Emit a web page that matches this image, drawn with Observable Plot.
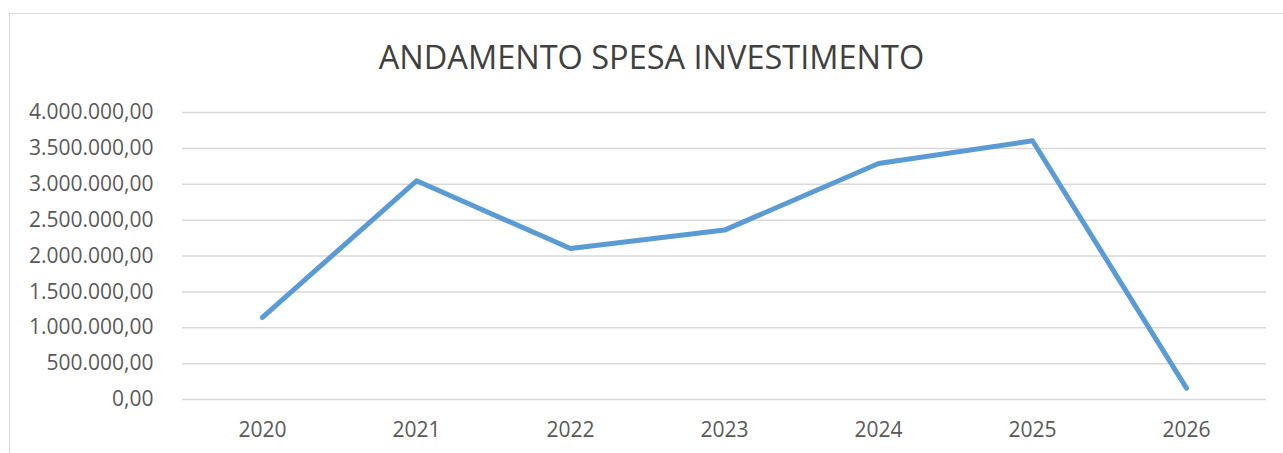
<!DOCTYPE html>
<html>
<head>
<meta charset="utf-8">
<script src="https://cdn.jsdelivr.net/npm/d3@7"></script>
<script src="https://cdn.jsdelivr.net/npm/@observablehq/plot@0.6"></script>
<style>
  html, body { margin: 0; padding: 0; background: #fff; }
  #wrap { position: relative; width: 1283px; height: 453px; overflow: hidden; }
  #border { position: absolute; left: 9px; top: 13px; right: -5px; bottom: -5px; border-left: 1.5px solid #d9d9d9; border-top: 1.5px solid #d9d9d9; pointer-events: none; }
  #chart { position: absolute; left: 0; top: 0; }
</style>
</head>
<body>
<div id="wrap"><div id="chart"></div><div id="border"></div></div>
<script>
const title = "ANDAMENTO SPESA INVESTIMENTO";
const years = ["2020", "2021", "2022", "2023", "2024", "2025", "2026"];
const spesa = [1143000, 3048000, 2104000, 2361000, 3289000, 3606000, 159000];
const yTicks = [0, 500000, 1000000, 1500000, 2000000, 2500000, 3000000, 3500000, 4000000];

const data = years.map((y, i) => ({anno: y, valore: spesa[i]}));
const it = d3.formatLocale({decimal: ",", thousands: ".", grouping: [3], currency: ["€", ""]});
const fmt = it.format(",.2f");

const chart = Plot.plot({
  width: 1283,
  height: 453,
  marginLeft: 182,
  marginRight: 17,
  marginTop: 112,
  marginBottom: 54,
  style: {fontFamily: "'Open Sans', sans-serif", fontSize: "21px", color: "#595959", background: "transparent"},
  x: {type: "point", domain: years, padding: 0.5, label: null, tickSize: 0, tickPadding: 23},
  y: {domain: [0, 4000000], ticks: yTicks, tickFormat: fmt, label: null, tickSize: 0, tickPadding: 29},
  marks: [
    Plot.ruleY(yTicks, {stroke: "#d9d9d9", strokeWidth: 1.5}),
    Plot.axisX({tickSize: 0, tickPadding: 23, fill: "#595959"}),
    Plot.axisY({ticks: yTicks, tickFormat: fmt, tickSize: 0, tickPadding: 29, fill: "#595959"}),
    Plot.line(data, {x: "anno", y: "valore", stroke: "#5b9bd5", strokeWidth: 5, strokeLinecap: "round", strokeLinejoin: "round"}),
    Plot.text([title], {frameAnchor: "top", dx: -73, dy: -54, fontSize: 32.5, fill: "#404040", lineAnchor: "middle", text: d => d})
  ]
});
document.getElementById("chart").appendChild(chart);
</script>
</body>
</html>
